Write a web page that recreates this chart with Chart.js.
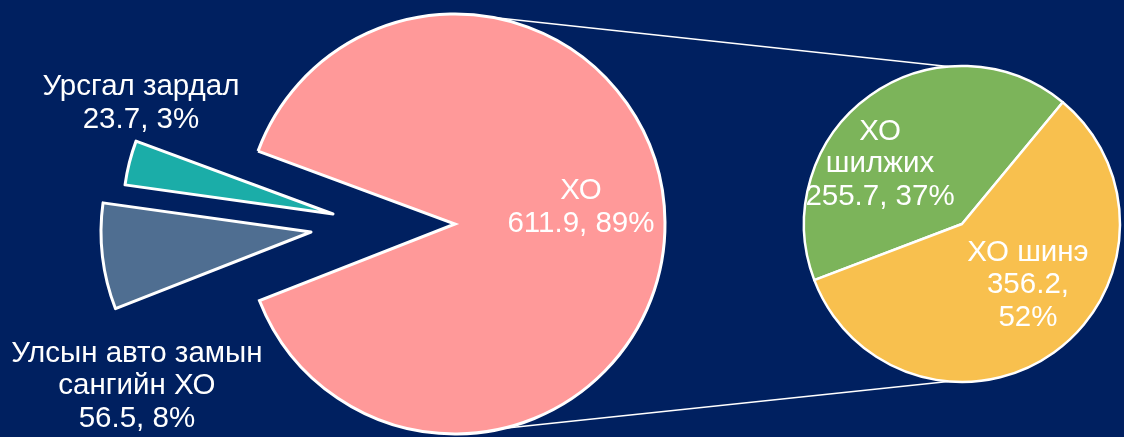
<!DOCTYPE html>
<html>
<head>
<meta charset="utf-8">
<script src="https://cdn.jsdelivr.net/npm/chart.js@4.4.1/dist/chart.umd.min.js"></script>
<style>
  html, body { margin: 0; padding: 0; background: #002060; }
  #wrap { position: relative; width: 1124px; height: 437px; overflow: hidden; }
  #wrap canvas { position: absolute; left: 0; top: 0; }
</style>
</head>
<body>
<div id="wrap">
  <canvas id="main" width="1124" height="437"></canvas>
  <canvas id="ursgal" width="1124" height="437"></canvas>
  <canvas id="ulsyn" width="1124" height="437"></canvas>
  <canvas id="sub" width="1124" height="437"></canvas>
</div>
<script>
const W = 1124, H = 437;

// first pie
const mainNames = ['ХО', 'Улсын авто замын сангийн ХО', 'Урсгал зардал'];
const mainValues = [611.9, 56.5, 23.7];
const mainPct = [89, 8, 3];
const mainNameLines = [['ХО'], ['Улсын авто замын', 'сангийн ХО'], ['Урсгал зардал']];
const mainColors = ['#FF9999', '#4F6E91', '#1BADA8'];

// second pie (split of ХО)
const subNames = ['ХО шилжих', 'ХО шинэ'];
const subValues = [255.7, 356.2];
const subPct = [37, 52];
const subNameLines = [['ХО', 'шилжих'], ['ХО шинэ']];
const subColors = ['#7CB45A', '#F8C04E'];

function labelLines(nameLines, values, pct, splitValue) {
  return nameLines.map((n, i) => splitValue && splitValue[i]
    ? n.concat([values[i] + ',', pct[i] + '%'])
    : n.concat([values[i] + ', ' + pct[i] + '%']));
}
const mainLines = labelLines(mainNameLines, mainValues, mainPct);
const subLines = labelLines(subNameLines, subValues, subPct, [false, true]);

// where the text sits, angle (deg, clockwise from right) and share of the radius
const mainSpots = [{ angle: -7.5, ratio: 0.605 }, { angle: 138.5, ratio: 1.107 }, { angle: 209.9, ratio: 1.055 }];
const subSpots = [{ angle: 216.2, ratio: 0.643 }, { angle: 42.9, ratio: 0.57 }];

const sliceLabels = {
  id: 'sliceLabels',
  afterDatasetsDraw(chart, args, opts) {
    const ctx = chart.ctx;
    const arcs = chart.getDatasetMeta(0).data;
    ctx.save();
    ctx.fillStyle = '#ffffff';
    ctx.font = '29.5px "Liberation Sans", Arial, sans-serif';
    ctx.textAlign = 'center';
    ctx.textBaseline = 'middle';
    opts.show.forEach(i => {
      const a = arcs[i];
      const s = opts.spots[i];
      const ang = s.angle * Math.PI / 180;
      const d = a.outerRadius * s.ratio;
      const x = a.x + Math.cos(ang) * d;
      const y = a.y + Math.sin(ang) * d;
      const lines = opts.lines[i];
      lines.forEach((t, k) => ctx.fillText(t, x, y + (k - (lines.length - 1) / 2) * 32.5));
    });
    ctx.restore();
  }
};

function padFor(cx, cy) {
  return {
    left: Math.max(0, 2 * cx - W), right: Math.max(0, W - 2 * cx),
    top: Math.max(0, 2 * cy - H), bottom: Math.max(0, H - 2 * cy)
  };
}

function pie(id, cx, cy, r, rotation, values, colors, visible, borderW, spots, lines, extra) {
  const show = values.map((v, i) => i).filter(i => visible[i]);
  return new Chart(document.getElementById(id), {
    type: 'pie',
    data: {
      labels: values.map((v, i) => i),
      datasets: [{
        data: values,
        radius: r,
        backgroundColor: colors.map((c, i) => visible[i] ? c : 'rgba(0,0,0,0)'),
        borderColor: colors.map((c, i) => visible[i] ? '#ffffff' : 'rgba(0,0,0,0)'),
        borderWidth: colors.map((c, i) => visible[i] ? borderW : 0),
        borderJoinStyle: id === 'main' ? 'miter' : 'round'
      }]
    },
    options: {
      responsive: false,
      animation: false,
      events: [],
      rotation: rotation,
      layout: { padding: padFor(cx, cy) },
      plugins: {
        legend: { display: false },
        tooltip: { enabled: false },
        sliceLabels: { show: show, spots: spots, lines: lines }
      }
    },
    plugins: [sliceLabels].concat(extra || [])
  });
}

const mainChart = pie('main', 455, 224, 210, 290.3, mainValues, mainColors, [true, false, false], 3, mainSpots, mainLines);
pie('ulsyn', 311, 232, 210, 290.3, mainValues, mainColors, [false, true, false], 3, mainSpots, mainLines);
pie('ursgal', 333, 214, 210, 290.3, mainValues, mainColors, [false, false, true], 3, mainSpots, mainLines);

const connectors = {
  id: 'connectors',
  afterDatasetsDraw(chart) {
    const big = mainChart.getDatasetMeta(0).data[0];
    const small = chart.getDatasetMeta(0).data[0];
    const pt = (a, deg) => [a.x + Math.cos(deg * Math.PI / 180) * a.outerRadius,
                            a.y + Math.sin(deg * Math.PI / 180) * a.outerRadius];
    const ctx = chart.ctx;
    ctx.save();
    ctx.strokeStyle = '#ffffff';
    ctx.lineWidth = 1.5;
    [[-80, -95], [77, 95]].forEach(([a1, a2]) => {
      const p = pt(big, a1), q = pt(small, a2);
      ctx.beginPath();
      ctx.moveTo(p[0], p[1]);
      ctx.lineTo(q[0], q[1]);
      ctx.stroke();
    });
    ctx.restore();
  }
};

pie('sub', 962, 224, 158, 249.2, subValues, subColors, [true, true], 2.5, subSpots, subLines, [connectors]);
</script>
</body>
</html>
